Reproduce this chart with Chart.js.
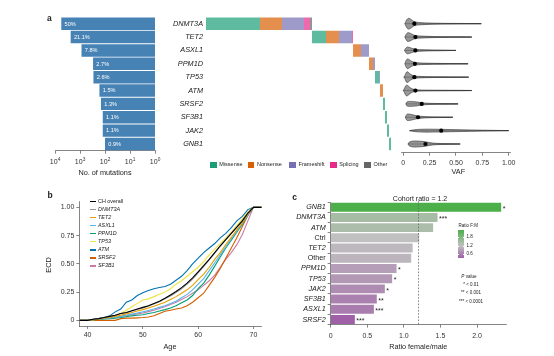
<!DOCTYPE html>
<html><head><meta charset="utf-8">
<script src="https://cdn.jsdelivr.net/npm/chart.js@4/dist/chart.umd.min.js"></script>
<style>
html,body{margin:0;padding:0;background:#fff;}
#wrap{position:relative;width:554px;height:356px;overflow:hidden;font-family:"Liberation Sans",Arial,Helvetica,sans-serif;color:#222;}
#wrap canvas{position:absolute;left:0;top:0;width:554px;height:356px;}
.t{position:absolute;white-space:nowrap;transform:translate(-50%,-50%);line-height:1;}
.l{position:absolute;white-space:nowrap;transform:translate(0,-50%);line-height:1;}
.sq{position:absolute;}
i{font-style:italic;}
</style></head><body>
<div id="wrap">
<canvas id="cA" width="554" height="356"></canvas>
<canvas id="cB" width="554" height="356"></canvas>
<canvas id="cC" width="554" height="356"></canvas>
<canvas id="cD" width="554" height="356"></canvas>
<canvas id="cE" width="554" height="356"></canvas>
<div id="overlay"></div>
</div>
<script>
// ---------- DATA ----------
// Panel a
const genes = ['DNMT3A','TET2','ASXL1','PPM1D','TP53','ATM','SRSF2','SF3B1','JAK2','GNB1'];
const mutationCounts = [5600,2360,870,300,290,167,145,123,123,100];
const mutationPct = ['50%','21.1%','7.8%','2.7%','2.6%','1.5%','1.3%','1.1%','1.1%','0.9%'];
const logTicks = [1,10,100,1000,10000];
const mutTypes = ['Missense','Nonsense','Frameshift','Splicing','Other'];
const missense   = [2700,700,0,0,200,0,100,100,100,100];
const nonsense   = [1100,650,400,200,0,150,0,0,0,0];
const frameshift = [1100,650,400,100,50,0,0,0,0,0];
const splicing   = [300,50,0,0,0,0,0,0,0,0];
const other      = [100,0,0,0,0,0,0,0,0,0];
// VAF violins
const vafTicks = [0,0.25,0.5,0.75,1];
const vafGrid = [0.01,0.02,0.03,0.04,0.05,0.06,0.08,0.10,0.12,0.15,0.20,0.25,0.30,0.40,0.50,0.60,0.70,0.80,0.90,1.00];
const vafMin = [0.015,0.015,0.012,0.015,0.005,0.0,0.025,0.02,0.06,0.045];
const vafMax = [0.74,0.65,0.50,0.615,0.62,0.65,0.52,0.47,1.0,0.54];
const vafMedian = [0.105,0.115,0.115,0.11,0.105,0.115,0.175,0.14,0.36,0.21];
const vafDensity = [
  [0,0.2,0.65,0.9,1.0,0.95,0.7,0.4,0.28,0.22,0.16,0.12,0.09,0.06,0.045,0.035,0.02,0,0,0],
  [0,0.2,0.6,0.8,0.8,0.75,0.55,0.35,0.25,0.2,0.15,0.12,0.09,0.06,0.04,0.03,0,0,0,0],
  [0,0.3,0.55,0.62,0.6,0.55,0.4,0.28,0.2,0.15,0.11,0.09,0.07,0.05,0,0,0,0,0,0],
  [0,0.3,0.75,0.9,0.85,0.7,0.45,0.3,0.22,0.17,0.12,0.1,0.08,0.06,0.04,0.03,0,0,0,0],
  [0,0.5,0.95,1.0,0.85,0.65,0.4,0.25,0.18,0.14,0.1,0.08,0.06,0.05,0.04,0.03,0,0,0,0],
  [0.3,0.8,1.0,0.95,0.8,0.6,0.35,0.2,0.14,0.1,0.08,0.07,0.06,0.05,0.04,0.03,0,0,0,0],
  [0,0,0.3,0.42,0.45,0.45,0.45,0.42,0.38,0.3,0.15,0.1,0.08,0.06,0.04,0,0,0,0,0],
  [0,0.2,0.5,0.6,0.6,0.58,0.5,0.4,0.3,0.2,0.12,0.08,0.06,0.04,0,0,0,0,0,0],
  [0,0,0,0,0,0,0.08,0.15,0.2,0.24,0.27,0.27,0.26,0.22,0.18,0.14,0.1,0.07,0.04,0],
  [0,0,0,0,0.2,0.4,0.5,0.55,0.55,0.52,0.45,0.25,0.12,0.08,0.04,0,0,0,0,0]
];
// Panel b (ECD)
const ages = [38.5,40,41,42,43,44,45,46,47,48,49,50,51,52,53,54,55,56,57,58,59,60,61,62,63,64,65,66,67,68,69,70,71.5];
const ecdNames = ['CH overall','DNMT3A','TET2','ASXL1','PPM1D','TP53','ATM','SRSF2','SF3B1'];
const ecdOverall = [0,0,0.01,0.015,0.025,0.035,0.045,0.06,0.07,0.085,0.1,0.115,0.13,0.15,0.17,0.195,0.225,0.255,0.29,0.33,0.375,0.43,0.485,0.54,0.6,0.66,0.715,0.77,0.825,0.88,0.95,1,1];
const ecdDNMT3A = [0,0,0.01,0.015,0.025,0.035,0.045,0.058,0.068,0.082,0.097,0.11,0.125,0.145,0.165,0.19,0.215,0.245,0.28,0.32,0.365,0.42,0.475,0.535,0.595,0.655,0.715,0.77,0.825,0.885,0.95,1,1];
const ecdTET2 = [0,0,0.005,0.01,0.018,0.025,0.035,0.045,0.057,0.07,0.082,0.095,0.11,0.125,0.142,0.16,0.185,0.21,0.24,0.27,0.31,0.36,0.41,0.47,0.54,0.6,0.67,0.735,0.8,0.865,0.94,1,1];
const ecdASXL1 = [0,0,0.005,0.01,0.015,0.02,0.027,0.035,0.045,0.055,0.065,0.075,0.087,0.1,0.115,0.13,0.15,0.17,0.2,0.23,0.27,0.32,0.37,0.44,0.51,0.58,0.65,0.72,0.79,0.86,0.93,1,1];
const ecdPPM1D = [0,0,0.005,0.008,0.012,0.015,0.02,0.025,0.032,0.04,0.045,0.05,0.06,0.07,0.082,0.095,0.11,0.13,0.155,0.18,0.22,0.28,0.33,0.4,0.48,0.56,0.64,0.71,0.78,0.85,0.93,1,1];
const ecdTP53 = [0,0,0.005,0.01,0.02,0.03,0.045,0.06,0.09,0.12,0.15,0.18,0.19,0.21,0.23,0.25,0.28,0.32,0.35,0.39,0.43,0.47,0.52,0.58,0.63,0.68,0.73,0.78,0.84,0.9,0.96,1,1];
const ecdATM = [0,0,0.01,0.015,0.025,0.04,0.075,0.1,0.16,0.18,0.22,0.245,0.265,0.28,0.29,0.3,0.32,0.355,0.39,0.44,0.5,0.55,0.6,0.64,0.68,0.73,0.77,0.82,0.88,0.92,0.98,1,1];
const ecdSRSF2 = [0,0,0,0,0,0,0,0.015,0.02,0.02,0.022,0.025,0.03,0.04,0.06,0.08,0.09,0.1,0.11,0.13,0.16,0.2,0.24,0.31,0.38,0.46,0.55,0.64,0.73,0.83,0.93,1,1];
const ecdSF3B1 = [0,0,0.005,0.01,0.015,0.02,0.027,0.035,0.042,0.05,0.057,0.065,0.077,0.09,0.105,0.12,0.14,0.16,0.185,0.21,0.24,0.27,0.31,0.35,0.4,0.47,0.54,0.6,0.67,0.76,0.88,1,1];
const ecdXTicks = [40,50,60,70];
const ecdYTicks = [0,0.25,0.5,0.75,1];
// Panel c
const ratioGenes = ['GNB1','DNMT3A','ATM','Ctrl','TET2','Other','PPM1D','TP53','JAK2','SF3B1','ASXL1','SRSF2'];
const ratioValues = [2.33,1.46,1.40,1.21,1.12,1.10,0.90,0.84,0.74,0.63,0.59,0.33];
const ratioStars = ['*','***','','','','','*','*','*','**','***','***'];
const ratioTicks = [0,0.5,1,1.5,2];
const cohortRatio = 1.2;
const legendRatioLabels = [1.8,1.2,0.6];
const pLegend = ['* < 0.01','** < 0.001','*** < 0.0001'];

// ---------- STYLE / SETUP ----------
const FONT = '"Liberation Sans", Arial, Helvetica, sans-serif';
Chart.defaults.font.family = FONT;
Chart.defaults.color = '#222';
Chart.defaults.animation = false;
Chart.defaults.responsive = false;
Chart.defaults.maintainAspectRatio = false;
Chart.defaults.devicePixelRatio = 1;
Chart.defaults.plugins.legend.display = false;
Chart.defaults.plugins.tooltip.enabled = false;

function setTicks(arr){ return function(scale){ scale.ticks = arr.map(v=>({value:v})); }; }
function fixH(h){ return function(s){ s.height = h; }; }
function fixW(w){ return function(s){ s.width = w; }; }
const tickGrid = {display:true, drawOnChartArea:false, drawTicks:true, tickLength:3, color:'#333', lineWidth:0.6};
const axBorder = {display:true, color:'#333', width:0.6};

// ---------- Panel a: mutation counts ----------
const pctPlugin = {id:'pct', afterDatasetsDraw(chart){
  const ctx = chart.ctx, meta = chart.getDatasetMeta(0);
  ctx.save(); ctx.fillStyle='#fff'; ctx.font='5.6px '+FONT; ctx.textBaseline='middle'; ctx.textAlign='left';
  meta.data.forEach((b,i)=>{ const left=Math.min(b.x,b.base); ctx.fillText(mutationPct[i], left+3.3, b.y+0.3); });
  ctx.restore();
}};
// power-of-ten tick labels with a raised exponent
const powLabels = {id:'powLabels', afterDraw(chart){
  const ctx=chart.ctx, xs=chart.scales.x, y=xs.top+3+5+3.6;
  ctx.save(); ctx.fillStyle='#333'; ctx.textBaseline='middle';
  logTicks.forEach(v=>{
    const x=xs.getPixelForValue(v), e=String(Math.round(Math.log10(v)));
    ctx.font='7px '+FONT; const w1=ctx.measureText('10').width;
    ctx.font='4.8px '+FONT; const w2=ctx.measureText(e).width;
    const x0=x-(w1+w2)/2;
    ctx.font='7px '+FONT; ctx.textAlign='left'; ctx.fillText('10',x0,y);
    ctx.font='4.8px '+FONT; ctx.fillText(e,x0+w1+0.2,y-2.6);
  });
  ctx.restore();
}};
new Chart(document.getElementById('cA'), {
  type:'bar',
  data:{labels:genes, datasets:[{data:mutationCounts, backgroundColor:'#4682b4', borderWidth:0, barPercentage:0.93, categoryPercentage:1}]},
  options:{
    indexAxis:'y',
    layout:{padding:{left:55,right:399,top:17,bottom:185.3}},
    scales:{
      x:{type:'logarithmic', reverse:true, min:1, max:10000, afterBuildTicks:setTicks(logTicks), afterFit:fixH(20),
         grid:tickGrid, border:axBorder,
         ticks:{font:{size:7}, color:'rgba(0,0,0,0)', padding:5, maxRotation:0, autoSkip:false,
                callback:(v)=>'10^'+Math.round(Math.log10(v))}},
      y:{type:'category', display:false}
    }
  },
  plugins:[pctPlugin, powLabels]
});

// ---------- Panel a: oncoprint ----------
const typeArrays = [missense,nonsense,frameshift,splicing,other];
const typeFill = ['rgba(27,158,119,0.7)','rgba(217,95,2,0.7)','rgba(117,112,179,0.7)','rgba(231,41,138,0.7)','rgba(102,102,102,0.7)'];
const typeSolid = ['#1b9e77','#d95f02','#7570b3','#e7298a','#666666'];
const geneTotals = genes.map((g,i)=>typeArrays.reduce((s,a)=>s+a[i],0));
const geneStart = []; let acc = 0;
genes.forEach((g,i)=>{ geneStart.push(acc); acc += geneTotals[i]; });
const oncoSets = mutTypes.map((t,k)=>({
  label:t,
  data: genes.map((g,i)=>{ let s=geneStart[i]; for(let j=0;j<k;j++) s+=typeArrays[j][i]; const n=typeArrays[k][i]; return n>0?[s,s+n]:null; }),
  backgroundColor:typeFill[k], borderWidth:0, grouped:false, barPercentage:0.93, categoryPercentage:1
}));
new Chart(document.getElementById('cB'), {
  type:'bar',
  data:{labels:genes, datasets:oncoSets},
  options:{
    indexAxis:'y',
    layout:{padding:{left:156,right:163,top:17,bottom:205.3}},
    scales:{
      x:{type:'linear', min:0, max:acc, display:false},
      y:{type:'category', afterFit:fixW(50), grid:{display:false, drawTicks:false}, border:{display:false},
         ticks:{font:{size:7.3, style:'italic'}, color:'#222', padding:3}}
    }
  }
});

// ---------- Panel a: VAF violins ----------
function smoothPath(ctx, pts, first){
  if(first) ctx.moveTo(pts[0][0],pts[0][1]); else ctx.lineTo(pts[0][0],pts[0][1]);
  for(let k=1;k<pts.length-1;k++){
    const mx=(pts[k][0]+pts[k+1][0])/2, my=(pts[k][1]+pts[k+1][1])/2;
    ctx.quadraticCurveTo(pts[k][0],pts[k][1],mx,my);
  }
  const L=pts[pts.length-1]; ctx.lineTo(L[0],L[1]);
}
const violinPlugin = {id:'violin', beforeDatasetsDraw(chart){
  const ctx=chart.ctx, xs=chart.scales.x, ys=chart.scales.y, H=5.5;
  ctx.save();
  genes.forEach((g,i)=>{
    const yc=ys.getPixelForValue(i), lo=vafMin[i], hi=vafMax[i], d=vafDensity[i];
    ctx.strokeStyle='#1a1a1a'; ctx.lineWidth=0.8;
    ctx.beginPath(); ctx.moveTo(xs.getPixelForValue(lo),yc); ctx.lineTo(xs.getPixelForValue(hi),yc); ctx.stroke();
    const pts=[[lo,0]];
    vafGrid.forEach((v,k)=>{ if(v>lo && v<hi) pts.push([v,d[k]]); });
    pts.push([hi,0]);
    const up=pts.map(([v,w])=>[xs.getPixelForValue(v), yc-w*H]);
    const dn=pts.map(([v,w])=>[xs.getPixelForValue(v), yc+w*H]).reverse();
    ctx.beginPath(); smoothPath(ctx,up,true); smoothPath(ctx,dn,false); ctx.closePath();
    ctx.fillStyle='rgba(125,125,125,0.8)'; ctx.fill();
    ctx.strokeStyle='#333'; ctx.lineWidth=0.6; ctx.stroke();
  });
  ctx.restore();
}};
new Chart(document.getElementById('cC'), {
  type:'scatter',
  data:{datasets:[{data:genes.map((g,i)=>({x:vafMedian[i], y:i})), pointRadius:2.1, backgroundColor:'#000', borderWidth:0}]},
  options:{
    layout:{padding:{left:401.7,right:43.2,top:17,bottom:183.3}},
    scales:{
      x:{type:'linear', min:-0.015, max:1.02, afterBuildTicks:setTicks(vafTicks), afterFit:fixH(20),
         grid:tickGrid, border:axBorder,
         ticks:{font:{size:7}, color:'#333', padding:3.5, maxRotation:0, autoSkip:false,
                callback:(v)=> v===0?'0':Number(v).toFixed(2)}},
      y:{type:'linear', min:-0.5, max:9.65, reverse:true, display:false}
    }
  },
  plugins:[violinPlugin]
});

// ---------- Panel b: ECD ----------
const ecdSeries = [ecdOverall,ecdDNMT3A,ecdTET2,ecdASXL1,ecdPPM1D,ecdTP53,ecdATM,ecdSRSF2,ecdSF3B1];
const ecdColors = ['#000000','#999999','#E69F00','#56B4E9','#009E73','#F0E442','#0072B2','#D55E00','#CC79A7'];
new Chart(document.getElementById('cD'), {
  type:'line',
  data:{datasets: ecdSeries.map((s,k)=>({label:ecdNames[k], data:ages.map((a,j)=>({x:a,y:s[j]})),
        borderColor:ecdColors[k], borderWidth:1.1, pointRadius:0, tension:0, fill:false}))},
  options:{
    layout:{padding:{left:49.3,right:292.3,top:201.7,bottom:10}},
    scales:{
      x:{type:'linear', min:38.5, max:71.5, afterBuildTicks:setTicks(ecdXTicks), afterFit:fixH(20),
         grid:tickGrid, border:axBorder,
         ticks:{font:{size:7}, color:'#333', padding:2, maxRotation:0, autoSkip:false}},
      y:{type:'linear', min:-0.05, max:1.05, afterBuildTicks:setTicks(ecdYTicks), afterFit:fixW(30),
         grid:tickGrid, border:axBorder,
         ticks:{font:{size:7}, color:'#333', padding:2, autoSkip:false,
                callback:(v)=> v===0?'0':Number(v).toFixed(2)}}
    }
  }
});

// ---------- Panel c: ratio ----------
const cLow=[160,96,168], cMid=[192,192,192], cHigh=[77,175,74];
const rMin=Math.min(...ratioValues), rMax=Math.max(...ratioValues);
function ratioColor(v){
  let a,b,t;
  if(v>=cohortRatio){ a=cMid; b=cHigh; t=(v-cohortRatio)/(rMax-cohortRatio); }
  else { a=cMid; b=cLow; t=(cohortRatio-v)/(cohortRatio-rMin); }
  t=Math.max(0,Math.min(1,t));
  return 'rgb('+a.map((c,k)=>Math.round(c+(b[k]-c)*t)).join(',')+')';
}
const ratioPlugin = {id:'ratioDeco', afterDatasetsDraw(chart){
  const ctx=chart.ctx, xs=chart.scales.x, area=chart.chartArea, meta=chart.getDatasetMeta(0);
  ctx.save();
  const x=xs.getPixelForValue(cohortRatio);
  ctx.strokeStyle='#666'; ctx.lineWidth=0.8; ctx.setLineDash([1.6,1.6]);
  ctx.beginPath(); ctx.moveTo(x,area.top-1); ctx.lineTo(x,area.bottom); ctx.stroke();
  ctx.setLineDash([]);
  ctx.fillStyle='#222'; ctx.font='7px '+FONT; ctx.textAlign='left'; ctx.textBaseline='middle';
  meta.data.forEach((b,i)=>{ if(ratioStars[i]) ctx.fillText(ratioStars[i], Math.max(b.x,b.base)+1.5, b.y+1.8); });
  ctx.restore();
}};
new Chart(document.getElementById('cE'), {
  type:'bar',
  data:{labels:ratioGenes, datasets:[{data:ratioValues, backgroundColor:ratioValues.map(ratioColor), borderWidth:0, barPercentage:0.88, categoryPercentage:1}]},
  options:{
    indexAxis:'y',
    layout:{padding:{left:290.7,right:47.7,top:202.1,bottom:11.4}},
    scales:{
      x:{type:'linear', min:0, max:2.4, afterBuildTicks:setTicks(ratioTicks), afterFit:fixH(20),
         grid:tickGrid, border:axBorder,
         ticks:{font:{size:7}, color:'#333', padding:4, maxRotation:0, autoSkip:false,
                callback:(v)=> v===0?'0':Number(v).toFixed(1)}},
      y:{type:'category', afterFit:fixW(40), grid:tickGrid, border:axBorder,
         ticks:{color:'#222', padding:2, autoSkip:false,
                font:(c)=>({size:7.2, style:(ratioGenes[c.index]==='Ctrl'||ratioGenes[c.index]==='Other')?'normal':'italic'})}}
    }
  },
  plugins:[ratioPlugin]
});

// ---------- Text overlays / legends ----------
const ov = document.getElementById('overlay');
function txt(html, x, y, size, cls, extra){
  const d=document.createElement('div'); d.className=cls||'t'; d.innerHTML=html;
  d.style.left=x+'px'; d.style.top=y+'px'; d.style.fontSize=size+'px';
  if(extra) Object.assign(d.style, extra);
  ov.appendChild(d); return d;
}
function box(x,y,w,h,bg){ const d=document.createElement('div'); d.className='sq';
  Object.assign(d.style,{left:x+'px',top:y+'px',width:w+'px',height:h+'px',background:bg}); ov.appendChild(d); return d; }

txt('a',49.3,17.8,8.5,'t',{fontWeight:'bold'});
txt('b',50,195,8.5,'t',{fontWeight:'bold'});
txt('c',294.5,196.5,8.5,'t',{fontWeight:'bold'});
txt('No. of mutations',105,173.3,7.3);
txt('VAF',458.3,171.8,7.3);
txt('Age',170,346.7,7.3);
txt('ECD',49.3,265,7.3,'t',{transform:'translate(-50%,-50%) rotate(-90deg)'});
txt('Ratio female/male',418.3,346.7,7.2);
txt('Cohort ratio = 1.2',420,197.7,7);

// mutation type legend
const legX = [210,247.7,289.3,330,364.3];
mutTypes.forEach((t,k)=>{ box(legX[k],161.7,6.8,6.8,typeSolid[k]); txt(t,legX[k]+9.3,165.2,5.5,'l'); });

// ECD legend
ecdNames.forEach((n,k)=>{
  const y=201.7+k*8.04;
  box(89.5,y-0.6,6,1.2,ecdColors[k]);
  txt(k===0?n:'<i>'+n+'</i>',98,y,5.4,'l');
});

// ratio colour legend
txt('Ratio F:M',458.5,225.7,4.5,'l');
const grad = box(458.3,230,5.8,28.3,'');
grad.style.background='linear-gradient(to bottom, rgb('+cHigh.join(',')+') 0%, rgb('+cMid.join(',')+') '+((rMax-cohortRatio)/(rMax-rMin)*100)+'%, rgb('+cLow.join(',')+') 100%)';
legendRatioLabels.forEach(v=>{
  const y=230+(rMax-v)/(rMax-rMin)*28.3;
  box(458.3,y-0.3,1.2,0.6,'#fff'); box(462.9,y-0.3,1.2,0.6,'#fff');
  txt(v.toFixed(1),466.5,y,4.5,'l');
});
txt('<i>P</i> value',469,276.9,4.6);
pLegend.forEach((s,k)=>txt(s,471,285+k*8.3,4.5));
</script>
</body></html>
